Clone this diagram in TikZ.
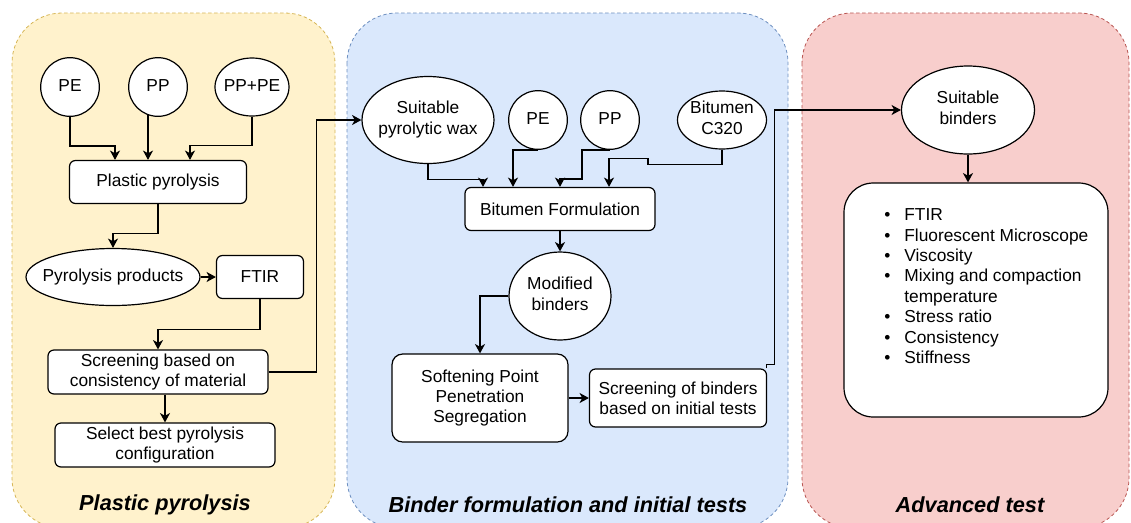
\documentclass[tikz,border=0pt]{standalone}
\usepackage{fontspec}
\setmainfont{Liberation Sans}
\usetikzlibrary{arrows.meta,shapes.geometric,calc}
\definecolor{yfill}{HTML}{FFF2CC}
\definecolor{ystroke}{HTML}{D6B656}
\definecolor{bfill}{HTML}{DAE8FC}
\definecolor{bstroke}{HTML}{6C8EBF}
\definecolor{rfill}{HTML}{F8CECC}
\definecolor{rstroke}{HTML}{B85450}
\newcommand\ztext[1]{\makebox[0pt]{\begin{tabular}{@{}c@{}}#1\end{tabular}}}
\begin{document}
\begin{tikzpicture}[x=0.75pt,y=-0.75pt,
  every node/.style={font=\fontsize{13}{15.3}\selectfont},
  box/.style={draw, fill=white, rounded corners=4.5pt, line width=0.9pt, align=center, inner sep=0pt},
  ell/.style={draw, fill=white, ellipse, line width=0.9pt, align=center, inner sep=0pt},
  conn/.style={draw, line width=0.9pt, -{Stealth[length=7pt,width=7.5pt,inset=2pt]}},
  panel/.style={dash pattern=on 2.5pt off 2pt, line width=0.6pt, rounded corners=37.5pt},
  paneltitle/.style={font=\fontsize{16.3}{18}\selectfont\bfseries\itshape}]
\useasboundingbox (0,0) rectangle (1131,522);
\begin{scope}
\clip (0,0) rectangle (1131,522);
\draw[panel, draw=ystroke, fill=yfill] (12,13) rectangle (335,528);
\draw[panel, draw=bstroke, fill=bfill] (347,13) rectangle (788,528);
\draw[panel, draw=rstroke, fill=rfill] (802,13) rectangle (1129,528);
\end{scope}

% left panel
\node[ell, minimum width=44pt, minimum height=44pt] (pe1) at (70,87) {\ztext{PE}};
\node[ell, minimum width=44pt, minimum height=44pt] (pp1) at (158,87) {\ztext{PP}};
\node[ell, minimum width=55.5pt, minimum height=43.5pt] (pppe) at (252,87) {\ztext{PP+PE}};
\node[box, minimum width=132.75pt, minimum height=32.25pt] (plp) at (158,182) {Plastic pyrolysis};
\node[ell, minimum width=130.5pt, minimum height=42.75pt] (prod) at (113,277) {\ztext{Pyrolysis products}};
\node[box, minimum width=65.25pt, minimum height=32.25pt] (ftir1) at (260,277) {FTIR};
\node[box, minimum width=165pt, minimum height=33pt] (scr1) at (158,372) {Screening based on\\consistency of material};
\node[box, minimum width=165pt, minimum height=33pt] (sel) at (165,445) {Select best pyrolysis\\configuration};

% middle panel
\node[ell, minimum width=99pt, minimum height=65.25pt] (wax) at (428,120) {\ztext{Suitable\\pyrolytic wax}};
\node[ell, minimum width=44pt, minimum height=44pt] (pe2) at (538,120) {\ztext{PE}};
\node[ell, minimum width=44pt, minimum height=44pt] (pp2) at (610,120) {\ztext{PP}};
\node[ell, minimum width=66.75pt, minimum height=43.5pt] (bit) at (722,120) {\ztext{Bitumen\\C320}};
\node[box, minimum width=142.5pt, minimum height=32.25pt] (bf) at (560,209) {Bitumen Formulation};
\node[ell, minimum width=76.5pt, minimum height=66pt] (mod) at (560,296) {\ztext{Modified\\binders}};
\node[box, rounded corners=8pt, minimum width=132pt, minimum height=66pt] (soft) at (480,398) {Softening Point\\Penetration\\Segregation};
\node[box, minimum width=132.75pt, minimum height=43.5pt] (scr2) at (678,398) {Screening of binders\\based on initial tests};

% right panel
\node[ell, minimum width=99.75pt, minimum height=66pt] (sb) at (968,110) {\ztext{Suitable\\binders}};
\node[box, rounded corners=22pt, minimum width=198pt, minimum height=175.5pt] (lst) at (976,300) {};
\node[anchor=west, inner sep=0pt] (lsttext) at (884,288) {\begin{tabular}{@{}l@{\hspace{10.5pt}}l@{}}
•&FTIR\\
•&Fluorescent Microscope\\
•&Viscosity\\
•&Mixing and compaction\\
&temperature\\
•&Stress ratio\\
•&Consistency\\
•&Stiffness
\end{tabular}};

% titles
\node[paneltitle] (t1) at (165,505) {Plastic pyrolysis};
\node[paneltitle] (t2) at (568,505) {Binder formulation and initial tests};
\node[paneltitle] (t3) at (970,505) {Advanced test};

% connectors left
\draw[conn] (pe1.south) -- ++(0,29) -| ($(plp.north)+(-43,0)$);
\draw[conn] ($(pp1.south)+(-10,-1.5)$) -- ($(plp.north)+(-10,0)$);
\draw[conn] (pppe.south) -- ++(0,29) -| ($(plp.north)+(32,0)$);
\draw[conn] (plp.south) -- ++(0,29) -| (prod.north);
\draw[conn] (prod.east) -- (ftir1.west);
\draw[conn] (ftir1.south) -- ++(0,30) -| (scr1.north);
\draw[conn] (scr1.south -| sel.north) -- (sel.north);
\draw[conn] (scr1.east) -- ++(48,0) |- (wax.west);

% connectors middle
\draw[conn] (wax.south) -- ++(0,15) -| ($(bf.north)+(-77,0)$);
\draw[conn] (pe2.south) -| ($(bf.north)+(-47,0)$);
\draw[conn] (pp2.south) -| ($(pp2.south)+(-28,29)$) -| (bf.north);
\draw[conn] (bit.south) -- ++(0,15) -- ++(-74,0) -- ++(0,-6) -| ($(bf.north)+(49,0)$);
\draw[conn] (bf.south) -- (mod.north);
\draw[conn] (mod.west) -| (soft.north);
\draw[conn] (soft.east) -- (scr2.west);
\draw[conn] ($(scr2.north east)+(-1,0)$) -- ++(0,-4) -- ++(8,0) |- (sb.west);

% connectors right
\draw[conn] (sb.south) -- (sb.south |- lst.north);
\end{tikzpicture}
\end{document}
